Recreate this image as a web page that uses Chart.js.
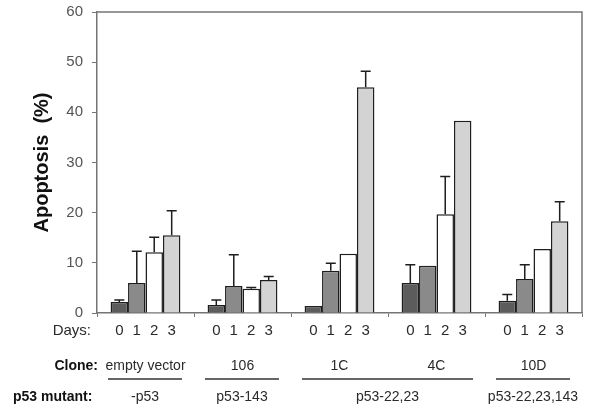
<!DOCTYPE html>
<html>
<head>
<meta charset="utf-8">
<script src="https://cdn.jsdelivr.net/npm/chart.js@4/dist/chart.umd.min.js"></script>
<style>
  html, body { margin: 0; padding: 0; background: #fff; }
  canvas { display: block; }
</style>
</head>
<body>
<canvas id="apoptosisChart" width="593" height="408"></canvas>
<script>
// clones on the x axis, one bar per day inside each clone
const clones = ['empty vector', '106', '1C', '4C', '10D'];
const days = ['0', '1', '2', '3'];

// apoptosis (%) per day
const day0 = [2.2, 1.6, 1.4, 6.0, 2.45];
const day1 = [6.0, 5.4, 8.4, 9.4, 6.8];
const day2 = [12.1, 4.85, 11.8, 19.7, 12.75];
const day3 = [15.5, 6.6, 45.0, 38.3, 18.3];

// upper error (0 = no error bar drawn)
const err0 = [0.4, 1.0, 0, 3.6, 1.25];
const err1 = [6.3, 6.2, 1.5, 0, 2.8];
const err2 = [3.0, 0.25, 0, 7.5, 0];
const err3 = [4.9, 0.7, 3.2, 0, 3.9];

// p53 mutant groups span one or more clones
const mutantLabels = ['-p53', 'p53-143', 'p53-22,23', 'p53-22,23,143'];
const mutantFrom = [0, 1, 2, 4];
const mutantTo = [0, 1, 3, 4];

const yTicks = [0, 10, 20, 30, 40, 50, 60];

const values = [day0, day1, day2, day3];
const errors = [err0, err1, err2, err3];
const fills = ['#5c5c5c', '#8a8a8a', '#ffffff', '#d3d3d3'];

const frameColor = '#757575';
const fontFamily = '"Liberation Sans", Arial, Helvetica, sans-serif';

const framePlugin = {
    id: 'frame',
    beforeDatasetsDraw(chart) {
        const {ctx, chartArea} = chart;
        ctx.save();
        ctx.strokeStyle = frameColor;
        ctx.lineWidth = 1.5;
        ctx.beginPath();
        ctx.moveTo(chartArea.left, chartArea.top);
        ctx.lineTo(chartArea.right, chartArea.top);
        ctx.lineTo(chartArea.right, chartArea.bottom);
        ctx.stroke();
        ctx.restore();
    }
};

const errorBarPlugin = {
    id: 'errorBars',
    afterDatasetsDraw(chart) {
        const {ctx} = chart;
        const yScale = chart.scales.y;
        ctx.save();
        ctx.strokeStyle = '#1e1e1e';
        ctx.lineWidth = 1.5;
        values.forEach((vals, i) => {
            const meta = chart.getDatasetMeta(i);
            meta.data.forEach((bar, j) => {
                const e = errors[i][j];
                if (!e) return;
                const yTop = yScale.getPixelForValue(vals[j] + e);
                ctx.beginPath();
                ctx.moveTo(bar.x, bar.y);
                ctx.lineTo(bar.x, yTop);
                ctx.moveTo(bar.x - 5, yTop);
                ctx.lineTo(bar.x + 5, yTop);
                ctx.stroke();
            });
        });
        ctx.restore();
    }
};

const bottomLabelsPlugin = {
    id: 'bottomLabels',
    afterDraw(chart) {
        const {ctx} = chart;
        const xScale = chart.scales.x;
        const half = (xScale.getPixelForValue(1) - xScale.getPixelForValue(0)) / 2;
        ctx.save();
        ctx.textBaseline = 'middle';

        // Days row
        ctx.fillStyle = '#2a2a2a';
        ctx.font = '15px ' + fontFamily;
        ctx.textAlign = 'right';
        ctx.fillText('Days:', 91, 331);
        ctx.textAlign = 'center';
        values.forEach((vals, i) => {
            chart.getDatasetMeta(i).data.forEach(bar => {
                ctx.fillText(days[i], bar.x, 331);
            });
        });

        // Clone row
        ctx.fillStyle = '#111';
        ctx.font = 'bold 14px ' + fontFamily;
        ctx.textAlign = 'right';
        ctx.fillText('Clone:', 98, 366);
        ctx.font = '14px ' + fontFamily;
        ctx.fillStyle = '#2a2a2a';
        ctx.textAlign = 'center';
        clones.forEach((c, j) => {
            ctx.fillText(c, xScale.getPixelForValue(j), 366);
        });

        // group lines and p53 mutant row
        ctx.strokeStyle = '#333';
        ctx.lineWidth = 1.5;
        mutantLabels.forEach((m, k) => {
            const x0 = xScale.getPixelForValue(mutantFrom[k]) - half + 11;
            const x1 = xScale.getPixelForValue(mutantTo[k]) + half - 12;
            ctx.beginPath();
            ctx.moveTo(x0, 379);
            ctx.lineTo(x1, 379);
            ctx.stroke();
            ctx.fillText(m, (x0 + x1) / 2, 397);
        });
        ctx.fillStyle = '#111';
        ctx.font = 'bold 14px ' + fontFamily;
        ctx.textAlign = 'left';
        ctx.fillText('p53 mutant:', 13, 397);
        ctx.restore();
    }
};

const ctx = document.getElementById('apoptosisChart').getContext('2d');
new Chart(ctx, {
    type: 'bar',
    data: {
        labels: clones,
        datasets: values.map((vals, i) => ({
            label: 'Day ' + days[i],
            data: vals,
            backgroundColor: fills[i],
            borderColor: '#1e1e1e',
            borderWidth: 1.5,
            borderSkipped: 'bottom',
            barPercentage: 1,
            categoryPercentage: 0.72,
        })),
    },
    options: {
        responsive: false,
        animation: false,
        layout: {
            padding: {top: 12, right: 11, left: 0, bottom: 0}
        },
        plugins: {
            legend: {display: false},
            tooltip: {enabled: false},
        },
        scales: {
            x: {
                grid: {
                    drawOnChartArea: false,
                    tickLength: 4,
                    color: frameColor,
                },
                border: {color: frameColor, width: 1.5},
                ticks: {display: false},
                afterFit: (scale) => { scale.height = 95; },
            },
            y: {
                min: 0,
                max: 60,
                afterBuildTicks: (scale) => {
                    scale.ticks = yTicks.map(v => ({value: v}));
                },
                grid: {
                    drawOnChartArea: false,
                    tickLength: 5,
                    color: frameColor,
                },
                border: {color: frameColor, width: 1.5},
                ticks: {
                    color: '#555',
                    padding: 9,
                    font: {family: fontFamily, size: 15},
                },
                title: {
                    display: true,
                    text: 'Apoptosis  (%)',
                    color: '#111',
                    padding: {top: 30, bottom: 0},
                    font: {family: fontFamily, size: 20, weight: 'bold'},
                },
                afterFit: (scale) => {
                    scale.width = 97;
                    // label overhang fits inside the 12px top padding
                    scale.paddingTop = 0;
                    scale.paddingBottom = 0;
                },
            }
        }
    },
    plugins: [framePlugin, errorBarPlugin, bottomLabelsPlugin],
});
</script>
</body>
</html>
